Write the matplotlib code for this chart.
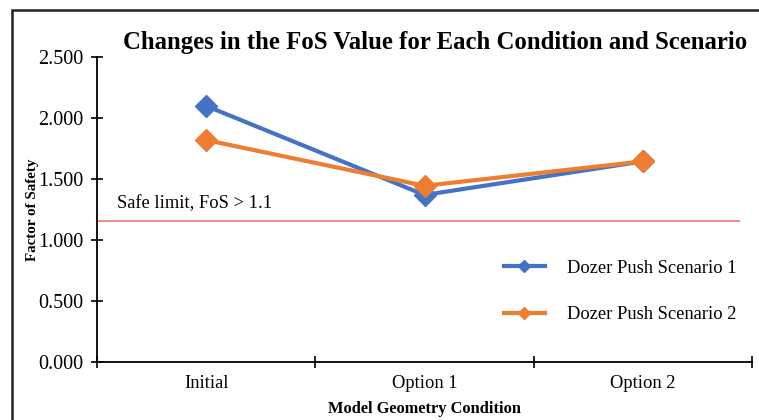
import matplotlib.pyplot as plt
from matplotlib.patches import Rectangle

# data
conditions = ['Initial', 'Option 1', 'Option 2']
scenario1 = [2.10, 1.37, 1.645]
scenario2 = [1.82, 1.445, 1.645]
safe_limit = 1.16

plt.rcParams['font.family'] = ['Liberation Serif', 'DejaVu Serif']

fig = plt.figure(figsize=(7.59, 4.2), dpi=100)
ax = fig.add_axes([0.1278, 0.138, 0.863, 0.726])

x = list(range(len(conditions)))
ax.plot(x, scenario1, color='#4472C4', lw=3, marker='D', ms=11.5,
        label='Dozer Push Scenario 1', zorder=3)
ax.plot(x, scenario2, color='#ED7D31', lw=3, marker='D', ms=11.5,
        label='Dozer Push Scenario 2', zorder=4)

# safe limit line
ax.plot([-0.5, 2.44], [safe_limit, safe_limit], color='#E8797A', lw=1.2, zorder=2)
ax.text(-0.41, safe_limit + 0.07, 'Safe limit, FoS > 1.1', fontsize=13.3, va='bottom')

ax.set_xlim(-0.5, 2.5)
ax.set_ylim(0, 2.5)
ax.set_yticks([0, 0.5, 1.0, 1.5, 2.0, 2.5])
ax.set_yticklabels(['%.3f' % v for v in [0, 0.5, 1.0, 1.5, 2.0, 2.5]], fontsize=14.5)
ax.set_xticks([-0.5, 0.5, 1.5, 2.5])
ax.set_xticklabels([])
ax.set_xticks(x, minor=True)
ax.set_xticklabels(conditions, minor=True, fontsize=13.3)
ax.tick_params(axis='x', which='minor', length=0, pad=9)
ax.tick_params(axis='both', which='major', direction='inout', length=8, width=1.2)
ax.tick_params(axis='y', pad=6)

for s in ['top', 'right']:
    ax.spines[s].set_visible(False)
for s in ['left', 'bottom']:
    ax.spines[s].set_linewidth(1.3)

ax.set_ylabel('Factor of Safety', fontsize=10.8, fontweight='bold', labelpad=-1)
ax.set_xlabel('Model Geometry Condition', fontsize=11.8, fontweight='bold', labelpad=7)

fig.text(0.573, 0.9, 'Changes in the FoS Value for Each Condition and Scenario',
         fontsize=17.8, fontweight='bold', ha='center', va='center')

leg = ax.legend(loc='upper left', bbox_to_anchor=(0.596, 0.39), frameon=False,
                fontsize=13.3, markerscale=0.5, handlelength=2.2,
                handletextpad=1.2, labelspacing=1.6)

# outer border
fig.patches.append(Rectangle((12 / 759, -0.05), 1.1, 1 - 10 / 420 + 0.05,
                             transform=fig.transFigure, fill=False,
                             edgecolor='#222222', lw=1.8))

fig.savefig('out.png', dpi=100)
